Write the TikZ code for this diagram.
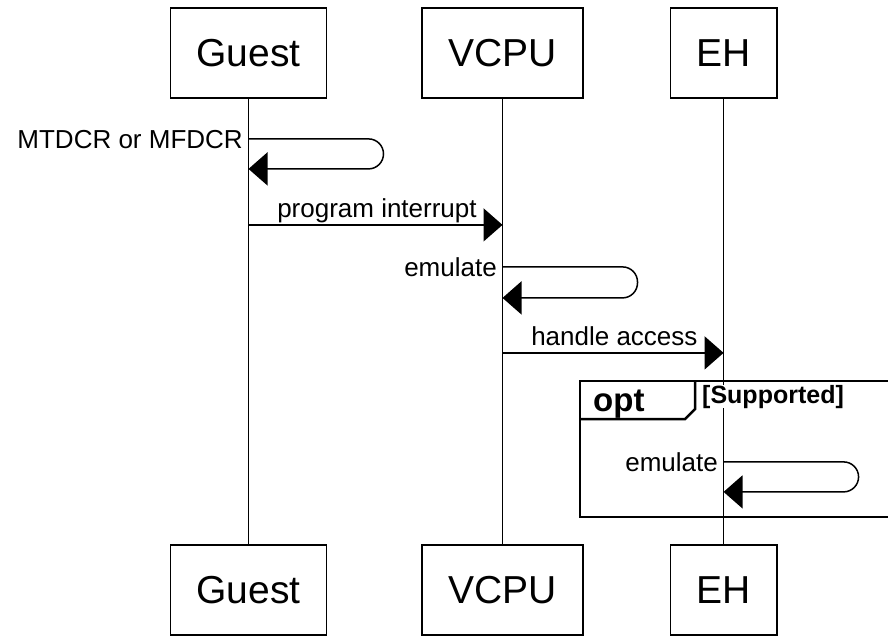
\documentclass[tikz,border=0pt]{standalone}
\usepackage{fontspec}
\setmainfont{Liberation Sans}
\usetikzlibrary{positioning}
\usetikzlibrary{calc}
\usetikzlibrary{arrows.meta}
\tikzset{
  box/.style       = { rectangle, minimum height=90pt, inner xsep=26pt },
  border/.style    = { line width=1.8pt, draw=black },
}
\tikzset{
  actor/.style     = { box, border, font=\fontsize{39pt}{44pt}\selectfont },
  lifeline/.style  = { line width=1.5pt },
  message/.style   = { line width=1.5pt, -{Triangle[length=19pt,width=33pt]} },
  selfmsg/.style   = { message, rounded corners=15pt },
  msglabel/.style  = { inner sep=0pt, font=\fontsize{26pt}{30pt}\selectfont },
  optframe/.style  = { line width=2.5pt },
  keyword/.style   = { inner sep=0pt, font=\bfseries\fontsize{33pt}{36pt}\selectfont },
  guard/.style     = { inner sep=0pt, fill=white, font=\bfseries\fontsize{25pt}{30pt}\selectfont }
}

\begin{document}
\begin{tikzpicture}[x=1pt,y=-1pt]
  \useasboundingbox (0,0) rectangle (888,635);
  \clip (0,0) rectangle (888,635);

  % participants
  \node (guest)  [actor] at (248.5,53)      {Guest};
  \node (vcpu)   [actor,right=94pt of guest] {VCPU};
  \node (eh)     [actor,right=86pt of vcpu]  {EH};

  \node (guestb) [actor,below=445pt of guest] {Guest};
  \node (vcpub)  [actor,below=445pt of vcpu]  {VCPU};
  \node (ehb)    [actor,below=445pt of eh]    {EH};

  \draw [lifeline] (guest) -- (guestb);
  \draw [lifeline] (vcpu)  -- (vcpub);
  \draw [lifeline] (eh)    -- (ehb);

  % points on the lifelines
  \coordinate (g1) at ($(guest.south)+(0,40)$);
  \coordinate (g2) at ($(guest.south)+(0,70)$);
  \coordinate (g3) at ($(guest.south)+(0,126)$);
  \coordinate (v3) at ($(vcpu.south)+(0,126)$);
  \coordinate (v4) at ($(vcpu.south)+(0,168)$);
  \coordinate (v5) at ($(vcpu.south)+(0,199)$);
  \coordinate (v6) at ($(vcpu.south)+(0,254)$);
  \coordinate (e6) at ($(eh.south)+(0,254)$);
  \coordinate (e7) at ($(eh.south)+(0,363)$);
  \coordinate (e8) at ($(eh.south)+(0,393)$);

  \draw [selfmsg] (g1)
        node [msglabel,anchor=base east,xshift=-5pt,yshift=-10pt] {MTDCR or MFDCR}
        -- ++(135,0) |- (g2);

  \draw [message] (g3) -- (v3)
        node [msglabel,pos=0,anchor=base west,xshift=28pt,yshift=7pt] {program interrupt};

  \draw [selfmsg] (v4)
        node [msglabel,anchor=base east,xshift=-5pt,yshift=-10pt] {emulate}
        -- ++(135,0) |- (v5);

  \draw [message] (v6) -- (e6)
        node [msglabel,pos=0,anchor=base west,xshift=28pt,yshift=7pt] {handle access};

  % opt fragment
  \node (cond) [guard,anchor=base west]   at (702,403) {[Supported]};
  \node (opt)  [keyword,anchor=base west] at (593,411) {opt};
  \draw [optframe] (580,381) rectangle (895,517);
  \draw [optframe] (580,419) -- (685,419) -- (695,409) -- (695,381);

  \draw [selfmsg] (e7)
        node [msglabel,anchor=base east,xshift=-5pt,yshift=-10pt] {emulate}
        -- ++(135,0) |- (e8);

\end{tikzpicture}
\end{document}
